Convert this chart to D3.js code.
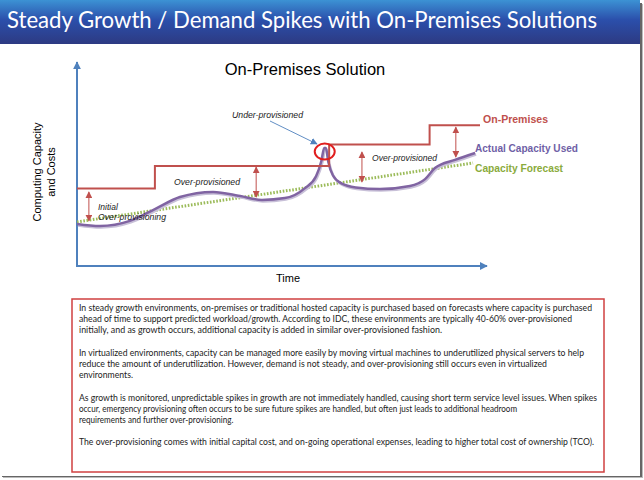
<!DOCTYPE html>
<html><head><meta charset="utf-8">
<script src="https://cdn.jsdelivr.net/npm/d3@7/dist/d3.min.js"></script>
<style>html,body{margin:0;padding:0;background:#fff}svg{display:block}</style>
</head><body>
<script>
// ---------- data ----------
const headerTitle = "Steady Growth / Demand Spikes with On-Premises Solutions";
const chartTitle = "On-Premises Solution";
const yAxisLabel = ["Computing Capacity", "and Costs"];
const xAxisLabel = "Time";

// On-Premises provisioned capacity (step)
const premTime = [0, 19, 61.5, 86, 98.3];
const premCap  = [38, 49, 59.5, 69, 69];

// Actual capacity used
const actualTime = [0, 5.6, 12.9, 19.0, 25.1, 33.2, 39.8, 45.1, 50.7, 55.6, 58.3, 59.6, 60.3, 60.7, 61.3, 62.4, 64.5, 68, 73.9, 81.2, 84.9, 87.3, 92.2, 97.1];
const actualCap  = [20.6, 19.6, 22.1, 27.9, 33.8, 36.3, 34.3, 32.4, 33.3, 38.2, 44.0, 51.5, 57.8, 57.8, 51, 44.5, 40.5, 38.5, 37.7, 39.2, 42.6, 48, 52, 55.4];

// Capacity forecast
const forecastTime = [0, 96.6];
const forecastCap  = [21.6, 50.5];

// Over-provisioning gap arrows
const gapTime = [2.9, 43.7, 69.5, 92.4];
const gapTop  = [36.3, 48.5, 55.9, 68.1];
const gapBot  = [22.1, 33.8, 41.2, 53.4];

// Series labels
const seriesNames = ["On-Premises", "Actual Capacity Used", "Capacity Forecast"];

// Annotations
const annoText = ["Initial", "Over-provisioning", "Over-provisioned", "Under-provisioned", "Over-provisioned"];

// Text box paragraphs (lines)
const bodyLines = [
 "In steady growth environments, on-premises or traditional hosted capacity is purchased based on forecasts where capacity is purchased",
 "ahead of time to support predicted workload/growth. According to IDC, these environments are typically 40-60% over-provisioned",
 "initially, and as growth occurs, additional capacity is added in similar over-provisioned fashion.",
 "",
 "In virtualized environments, capacity can be managed more easily by moving virtual machines to underutilized physical servers to help",
 "reduce the amount of underutilization. However, demand is not steady, and over-provisioning still occurs even in virtualized",
 "environments.",
 "",
 "As growth is monitored, unpredictable spikes in growth are not immediately handled, causing short term service level issues. When spikes",
 "occur, emergency provisioning often occurs to be sure future spikes are handled, but often just leads to additional headroom",
 "requirements and further over-provisioning.",
 "",
 "The over-provisioning comes with initial capital cost, and on-going operational expenses, leading to higher total cost of ownership (TCO)."
];
const bodyLineEnds = [592, 572, 442, 0, 584, 547, 133, 0, 597, 486, 203, 0, 594];

// ---------- drawing ----------
const W = 644, H = 480;
const svg = d3.select("body").append("svg").attr("width", W).attr("height", H);
const defs = svg.append("defs");

const grad = defs.append("linearGradient").attr("id","hdr").attr("x1",0).attr("y1",0).attr("x2",0).attr("y2",1);
grad.append("stop").attr("offset","0%").attr("stop-color","#3c92d4");
grad.append("stop").attr("offset","45%").attr("stop-color","#2b4fab");
grad.append("stop").attr("offset","100%").attr("stop-color","#2d3a82");

function marker(id, color, size) {
  defs.append("marker").attr("id", id).attr("viewBox","0 0 10 10").attr("refX",9).attr("refY",5)
    .attr("markerWidth",size).attr("markerHeight",size).attr("orient","auto-start-reverse")
    .attr("markerUnits","userSpaceOnUse")
    .append("path").attr("d","M0,0 L10,5 L0,10 z").attr("fill",color);
}
marker("redArrow", "#c0504d", 7);
marker("blueArrow", "#4f81bd", 7);
marker("axisArrow", "#4f81bd", 8);

// slide background + shadow
svg.append("rect").attr("x",3).attr("y",4).attr("width",640).attr("height",474).attr("fill","#bbb");
svg.append("rect").attr("x",2).attr("y",3).attr("width",640).attr("height",474).attr("fill","#666");
svg.append("rect").attr("x",0).attr("y",0).attr("width",640).attr("height",476).attr("fill","#fff");

// header
svg.append("rect").attr("x",0).attr("y",0).attr("width",640).attr("height",44).attr("fill","url(#hdr)");
svg.append("text").attr("x",7).attr("y",28).attr("fill","#fff")
  .attr("font-family","Lato, 'Open Sans', sans-serif").attr("font-size",23)
  .attr("textLength",590).attr("lengthAdjust","spacingAndGlyphs")
  .text(headerTitle);

// scales
const x = d3.scaleLinear().domain([0,100]).range([77,487]);
const y = d3.scaleLinear().domain([0,100]).range([266,62]);

// axes
const ax = svg.append("g");
ax.append("line").attr("x1",x(0)).attr("y1",y(0)).attr("x2",x(0)).attr("y2",y(100))
  .attr("stroke","#4f81bd").attr("stroke-width",2).attr("marker-end","url(#axisArrow)");
ax.append("line").attr("x1",x(0)-1).attr("y1",y(0)).attr("x2",x(100)).attr("y2",y(0))
  .attr("stroke","#4f81bd").attr("stroke-width",2).attr("marker-end","url(#axisArrow)");

// titles
const arial = "'Liberation Sans', Arial, sans-serif";
svg.append("text").attr("x",305).attr("y",75).attr("text-anchor","middle")
  .attr("font-family",arial).attr("font-size",16.5).attr("fill","#000").text(chartTitle);
svg.append("text").attr("x",288).attr("y",282).attr("text-anchor","middle")
  .attr("font-family",arial).attr("font-size",11).attr("fill","#000").text(xAxisLabel);
const yl = svg.append("text").attr("transform","translate(41,172) rotate(-90)")
  .attr("text-anchor","middle").attr("font-family",arial).attr("font-size",11).attr("fill","#000");
yAxisLabel.forEach((t,i)=> yl.append("tspan").attr("x",0).attr("dy", i===0?0:14).text(t));

// forecast line
const forecast = forecastTime.map((t,i)=>[t, forecastCap[i]]);
svg.append("path").datum(forecast)
  .attr("d", d3.line().x(d=>x(d[0])).y(d=>y(d[1])))
  .attr("fill","none").attr("stroke","#9bbb59").attr("stroke-width",3).attr("stroke-dasharray","1.6,1.6");

// actual line (with faint shadow)
const actual = actualTime.map((t,i)=>[t, actualCap[i]]);
const actLine = d3.line().x(d=>x(d[0])).y(d=>y(d[1])).curve(d3.curveMonotoneX);
svg.append("path").datum(actual).attr("d", actLine).attr("transform","translate(1,1.5)")
  .attr("fill","none").attr("stroke","#c8c0d8").attr("stroke-width",2.5);
svg.append("path").datum(actual).attr("d", actLine)
  .attr("fill","none").attr("stroke","#8064a2").attr("stroke-width",2.5);

// on-premises step
const prem = premTime.map((t,i)=>[t, premCap[i]]);
svg.append("path").datum(prem)
  .attr("d", d3.line().x(d=>x(d[0])).y(d=>y(d[1])).curve(d3.curveStepAfter))
  .attr("fill","none").attr("stroke","#c0504d").attr("stroke-width",2);

// gap arrows
svg.append("g").selectAll("line").data(gapTime).join("line")
  .attr("x1",d=>x(d)).attr("x2",d=>x(d))
  .attr("y1",(d,i)=>y(gapTop[i])).attr("y2",(d,i)=>y(gapBot[i]))
  .attr("stroke","#c0504d").attr("stroke-width",1)
  .attr("marker-start","url(#redArrow)").attr("marker-end","url(#redArrow)");

// under-provisioned circle and arrow
const spikeI = 12;
svg.append("ellipse").attr("cx", x(actualTime[spikeI])+0.5).attr("cy", y(actualCap[spikeI])+3.5)
  .attr("rx",10).attr("ry",8).attr("fill","none").attr("stroke","#e01e1e").attr("stroke-width",2);
svg.append("line").attr("x1",270).attr("y1",121).attr("x2",317).attr("y2",144)
  .attr("stroke","#4f81bd").attr("stroke-width",0.9).attr("marker-end","url(#blueArrow)");

// annotations
const anno = [
  {t:annoText[0], x:98, y:210, w:0},
  {t:annoText[1], x:98, y:220, w:68},
  {t:annoText[2], x:174, y:185, w:66},
  {t:annoText[3], x:232, y:118, w:71},
  {t:annoText[4], x:372, y:161, w:65}
];
svg.append("g").selectAll("text").data(anno).join("text")
  .attr("x",d=>d.x).attr("y",d=>d.y).attr("font-family",arial).attr("font-style","italic")
  .attr("font-size",8.5).attr("fill","#1a1a1a")
  .each(function(d){ if(d.w) d3.select(this).attr("textLength",d.w).attr("lengthAdjust","spacingAndGlyphs"); })
  .text(d=>d.t);

// series labels
const sl = [
  {t:seriesNames[0], x:483, y:123, w:65, c:"#c0504d"},
  {t:seriesNames[1], x:475, y:152, w:103, c:"#6f5fa6"},
  {t:seriesNames[2], x:475, y:172, w:88, c:"#8aab3c"}
];
svg.append("g").selectAll("text").data(sl).join("text")
  .attr("x",d=>d.x).attr("y",d=>d.y).attr("font-family",arial).attr("font-weight","bold")
  .attr("font-size",11.5).attr("fill",d=>d.c)
  .attr("textLength",d=>d.w).attr("lengthAdjust","spacingAndGlyphs")
  .text(d=>d.t);

// text box
svg.append("rect").attr("x",72).attr("y",299).attr("width",532).attr("height",173)
  .attr("fill","#fff").attr("stroke","#d04040").attr("stroke-width",1.5);
const tb = svg.append("g");
bodyLines.forEach((t,i)=>{
  if(!t) return;
  const el = tb.append("text").attr("x",79).attr("y",311 + i*11.2)
    .attr("font-family","Lato, 'Open Sans', sans-serif").attr("font-size",8.7).attr("fill","#222")
    .text(t);
  const nat = el.node().getComputedTextLength();
  const target = bodyLineEnds[i]-79;
  const w = Math.max(nat*0.93, Math.min(nat*1.06, target));
  el.attr("textLength", w).attr("lengthAdjust","spacingAndGlyphs");
});
</script>
</body></html>
